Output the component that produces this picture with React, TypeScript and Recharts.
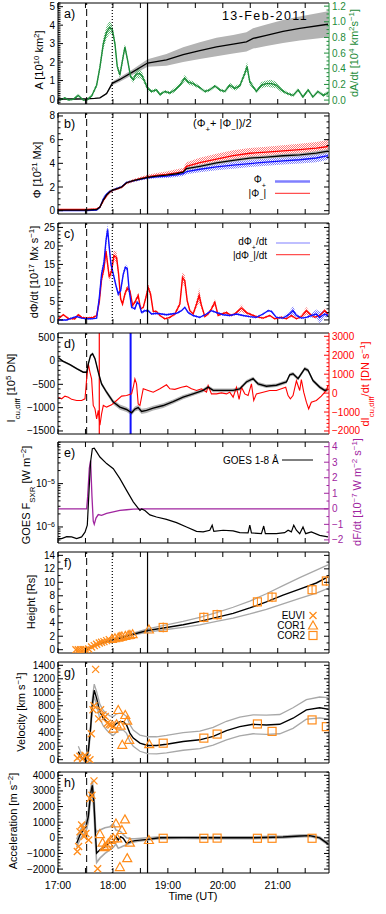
import React from 'react';
import { ComposedChart, Line, Area, Scatter, XAxis, YAxis, ReferenceLine } from 'recharts';

const FONT = '"Liberation Sans", Arial, Helvetica, sans-serif';
const GREEN = '#1e8c3a';
const BLUE = '#1010ff';
const RED = '#ff0000';
const PURPLE = '#a0259f';
const ORANGE = '#ff8c1a';
const GRAY_BAND = '#b3b3b3';
const GRAY_LINE = '#a8a8a8';

// figure geometry
const W = 386;
const L = 58; // plot left edge
const R = 329; // plot right edge
const H = 101; // plot height
const PAD = 4;
const PLOT_TOPS = [3, 113, 223, 333, 442, 552, 662, 772];

// time axis: minutes after 17:00 UT
const T_MAX = 296;
const TIME_TICKS = [0, 30, 60, 90, 120, 150, 180, 210, 240, 270];
const HOUR_LABELS: Record<number, string> = { 0: '17:00', 60: '18:00', 120: '19:00', 180: '20:00', 240: '21:00' };
const T_DASH = 31.3;
const T_DOT = 59.3;
const T_SOLID = 97.8;
const T_RED = 45.1;
const T_BLUE = 79.3;

// a) area and its derivative
const AREA_T = [0, 20, 31.3, 40, 45.8, 53.1, 59.3, 67.6, 82.2, 97.8, 118.5, 136.7, 154.9, 173.1, 191.3, 205.8, 213.1, 227.6, 245.8, 264, 294.9];
const AREA_V = [0, 0, 0.01, 0.03, 0.06, 0.3, 0.85, 1.06, 1.48, 1.95, 2.12, 2.4, 2.62, 2.82, 2.97, 3.1, 3.28, 3.45, 3.66, 3.82, 4.05];
const AREA_ERR = [0, 0, 0, 0.01, 0.02, 0.05, 0.1, 0.12, 0.15, 0.2, 0.32, 0.4, 0.45, 0.5, 0.5, 0.52, 0.55, 0.58, 0.62, 0.65, 0.7];

const DADT_T = [2.2, 7.6, 11.3, 16.7, 22.2, 27.6, 31.3, 36.7, 42.2, 45.8, 49.5, 53.1, 56.7, 59.3, 62.2, 64.7, 67.6, 70.2, 73.1, 76, 79.3, 82.2, 85.1, 88.7, 91.3, 93.8, 97.8, 102.2, 107.6, 111.3, 116.7, 122.2, 127.6, 133.1, 138.5, 142.2, 147.6, 154.9, 160.4, 165.8, 171.3, 176.7, 182.2, 187.6, 193.1, 198.5, 204, 206.5, 209.5, 216.7, 222.2, 227.6, 233.1, 238.5, 244, 249.5, 256.7, 262.2, 267.6, 273.1, 278.5, 284, 289.5, 294.9];
const DADT_V = [0, 0.03, 0, 0.01, 0.06, 0, 0, 0.05, 0.19, 0.42, 0.72, 0.87, 0.93, 0.9, 0.72, 0.43, 0.32, 0.49, 0.68, 0.51, 0.3, 0.26, 0.33, 0.34, 0.32, 0.26, 0.15, 0.11, 0.13, 0.07, 0.11, 0.09, 0.13, 0.19, 0.28, 0.23, 0.21, 0.16, 0.11, 0.13, 0.18, 0.13, 0.11, 0.19, 0.15, 0.18, 0.34, 0.43, 0.23, 0.11, 0.19, 0.21, 0.21, 0.19, 0.13, 0.09, 0.06, 0.13, 0.04, 0.13, 0.04, 0.11, 0.06, 0.09];
const DADT_ERR = [0.01, 0.01, 0.01, 0.01, 0.02, 0.01, 0.01, 0.02, 0.03, 0.05, 0.07, 0.08, 0.08, 0.06, 0.05, 0.04, 0.04, 0.05, 0.04, 0.03, 0.03, 0.04, 0.05, 0.06, 0.05, 0.04, 0.03, 0.02, 0.02, 0.02, 0.02, 0.02, 0.03, 0.03, 0.04, 0.03, 0.03, 0.02, 0.02, 0.02, 0.02, 0.02, 0.02, 0.03, 0.03, 0.03, 0.04, 0.06, 0.04, 0.02, 0.04, 0.04, 0.05, 0.04, 0.03, 0.02, 0.02, 0.02, 0.02, 0.02, 0.02, 0.02, 0.02, 0.02];

// b) magnetic flux
const PHI_T = [0, 31.3, 42.2, 45.8, 49.5, 53.1, 56.7, 60.4, 64, 69.5, 74.9, 82.2, 89.5, 97.8, 107.6, 118.5, 129.5, 136.7, 140.4, 154.9, 173.1, 191.3, 209.5, 227.6, 245.8, 264, 282.2, 294.9];
const PHI_MEAN = [0.05, 0.05, 0.1, 0.3, 0.9, 1.33, 1.6, 1.75, 1.85, 2.0, 2.36, 2.53, 2.67, 2.82, 2.92, 3.0, 3.12, 3.25, 3.55, 3.75, 4.03, 4.25, 4.44, 4.53, 4.64, 4.72, 4.86, 5.03];
const PHI_POS = [0.0, 0.0, 0.05, 0.3, 1.0, 1.4, 1.62, 1.75, 1.87, 2.02, 2.38, 2.52, 2.64, 2.78, 2.85, 2.92, 3.02, 3.12, 3.3, 3.5, 3.7, 3.85, 3.98, 4.1, 4.2, 4.3, 4.45, 4.65];
const PHI_NEG = [0.1, 0.1, 0.15, 0.3, 0.85, 1.28, 1.58, 1.75, 1.83, 1.98, 2.34, 2.54, 2.7, 2.86, 2.98, 3.06, 3.2, 3.3, 3.75, 4.05, 4.35, 4.65, 4.85, 4.95, 5.05, 5.15, 5.28, 5.42];
const PHI_MEAN_ERR = [0.02, 0.02, 0.04, 0.06, 0.08, 0.08, 0.08, 0.08, 0.08, 0.08, 0.08, 0.08, 0.08, 0.1, 0.1, 0.1, 0.1, 0.1, 0.12, 0.12, 0.12, 0.12, 0.13, 0.13, 0.14, 0.14, 0.15, 0.15];
const PHI_POS_ERR = [0.03, 0.03, 0.05, 0.1, 0.15, 0.15, 0.12, 0.1, 0.1, 0.1, 0.1, 0.1, 0.1, 0.1, 0.12, 0.15, 0.18, 0.2, 0.22, 0.25, 0.28, 0.3, 0.3, 0.3, 0.3, 0.32, 0.35, 0.35];
const PHI_NEG_ERR = [0.03, 0.03, 0.05, 0.1, 0.15, 0.15, 0.12, 0.1, 0.1, 0.1, 0.12, 0.14, 0.15, 0.18, 0.2, 0.25, 0.3, 0.3, 0.35, 0.42, 0.45, 0.45, 0.45, 0.45, 0.48, 0.5, 0.52, 0.55];

// c) flux rates
const DPOS_T = [0.4, 9.5, 14.9, 20.4, 25.8, 31.3, 36.7, 42.2, 45.1, 47.6, 50.2, 52.4, 54.2, 56, 57.8, 60.4, 63.3, 65.8, 68.4, 71.3, 73.5, 75.6, 77.8, 80.4, 84, 86.5, 88.7, 91.3, 94.9, 98.5, 102.2, 107.6, 113.1, 118.5, 124, 129.5, 134.9, 138.5, 142.2, 147.6, 154.9, 162.2, 167.6, 173.1, 180.4, 187.6, 194.9, 202.2, 209.5, 216.7, 224, 229.5, 233.1, 238.5, 245.8, 253.1, 256.7, 260.4, 265.8, 271.3, 276.7, 282.2, 285.8, 291.3, 294.9];
const DPOS_V = [0, 0, 0.5, 0.9, 0.5, 0.3, 0.3, 0.5, 6, 12.4, 15.5, 21.4, 24.5, 19.6, 15.1, 12.4, 9.3, 7, 7.9, 12.4, 14.2, 14, 7.9, 3.4, 3, 4.8, 4.2, 2, 2.5, 2.5, 1.6, 1.8, 1.6, 1.4, 1.6, 1.8, 2.5, 3.4, 2, 1.2, 0.7, 1.6, 2.5, 2, 1.4, 1.2, 1.6, 1.2, 0.9, 0.7, 1.6, 2.5, 2.3, 0.7, 0.5, 1.6, 2.5, 1.2, 0.5, 0.7, 1.2, 1.6, 0.7, 1.6, 1.2];
const DPOS_ERR = [0.2, 0.2, 0.2, 0.2, 0.2, 0.2, 0.2, 0.2, 1, 1.2, 1.2, 1.5, 1.5, 1.2, 1, 0.8, 0.6, 0.6, 0.8, 0.8, 0.8, 0.6, 0.4, 0.4, 0.4, 0.4, 0.4, 0.4, 0.4, 0.3, 0.3, 0.3, 0.3, 0.3, 0.3, 0.3, 0.3, 0.3, 0.3, 0.3, 0.3, 0.3, 0.3, 0.3, 0.3, 0.3, 0.3, 0.3, 0.3, 0.3, 0.3, 0.3, 0.3, 0.3, 0.3, 0.8, 1.2, 0.5, 0.3, 0.3, 0.5, 1.2, 1.5, 0.8, 0.6];
const DNEG_T = [0.4, 5.8, 11.3, 18.5, 22.2, 25.8, 31.3, 38.5, 42.2, 45.1, 47.6, 50.2, 52.4, 54.2, 56, 58.5, 61.1, 64, 66.2, 68.4, 70.5, 73.1, 75.6, 78.5, 81.5, 84, 87.6, 90.2, 93.1, 96, 98.5, 101.1, 104, 107.6, 111.3, 116.7, 122.2, 127.6, 133.1, 136, 138.5, 141.1, 144, 147.6, 151.3, 154.2, 156.7, 160.4, 164, 167.6, 171.3, 174.9, 178.5, 184, 189.5, 194.9, 200.4, 205.8, 211.3, 216.7, 224, 231.3, 236.7, 244, 249.5, 254.9, 260.4, 265.8, 271.3, 274.9, 280.4, 285.8, 291.3, 294.9];
const DNEG_V = [0.3, 1.4, 0.4, 0.3, 1.4, 0.7, 0.5, 0.7, 1.2, 4.8, 11, 13.8, 18.7, 15.1, 11.5, 13.3, 17.4, 16.9, 12.4, 5.7, 4.3, 7, 8.6, 7.9, 3.9, 4.8, 6.6, 3, 3.4, 6.1, 8.8, 7, 2.3, 2.3, 1.2, 0.3, 0.7, 1.6, 4.3, 11.5, 10.6, 5.2, 2.5, 1.6, 4.3, 6.6, 3.9, 0.9, 1.6, 3, 4.8, 1.2, 1.6, 2, 1.2, 2, 3.2, 2, 1.4, 0.9, 0.5, 1.2, 0.3, 0.7, 0.3, 1.2, 0.3, 0.9, 2.5, 1.6, 0.7, 1.2, 2.5, 1.6];
const DNEG_ERR = [0.3, 0.3, 0.3, 0.3, 0.3, 0.3, 0.3, 0.3, 0.3, 0.6, 1, 1.2, 1.5, 1.2, 1, 1.2, 1.5, 1.5, 1, 0.6, 0.6, 0.8, 0.8, 0.8, 0.5, 0.6, 0.8, 0.4, 0.4, 0.8, 1, 0.8, 0.4, 0.3, 0.3, 0.3, 0.3, 0.4, 0.8, 1.5, 1.5, 0.8, 0.4, 0.4, 1, 2, 0.8, 0.3, 0.4, 0.6, 0.8, 0.3, 0.3, 0.4, 0.3, 0.5, 1, 0.5, 0.3, 0.3, 0.3, 0.3, 0.2, 0.3, 0.2, 0.4, 0.2, 0.4, 1, 0.6, 0.3, 0.4, 0.8, 0.5];

// d) Cu-diff intensity and its derivative
const ICU_T = [0.4, 5.8, 13.1, 20.4, 27.6, 31.3, 33.1, 35.6, 37.8, 40.4, 44, 47.6, 53.1, 60.4, 67.6, 74.9, 80.4, 84, 87.6, 91.3, 96.7, 104, 114.9, 125.8, 136.7, 147.6, 158.5, 164, 169.5, 180.4, 191.3, 198.5, 205.8, 213.1, 218.5, 227.6, 238.5, 249.5, 253.1, 256.7, 262.2, 269.5, 273.1, 278.5, 285.8, 291.3, 294.9];
const ICU_V = [70, -10, -80, -165, -240, -240, -60, 120, 155, 50, -240, -490, -670, -880, -990, -1040, -1110, -1030, -1000, -1080, -1060, -1010, -955, -870, -775, -705, -630, -560, -630, -630, -630, -600, -450, -380, -490, -540, -520, -450, -295, -275, -380, -165, -200, -420, -560, -630, -610];
const ICU_ERR = [20, 20, 20, 20, 20, 25, 30, 30, 30, 30, 35, 40, 45, 50, 55, 55, 55, 55, 55, 55, 55, 50, 50, 45, 45, 40, 40, 40, 40, 40, 40, 40, 40, 40, 40, 40, 40, 40, 40, 40, 40, 40, 40, 40, 40, 40, 40];
const DICU_T = [0.4, 4, 7.6, 11.3, 14.9, 20.4, 25.8, 29.5, 31.3, 33.1, 34.9, 36.7, 38.5, 40.4, 42.2, 44, 45.8, 47.6, 49.5, 53.1, 58.5, 64, 69.5, 74.9, 80.4, 82.2, 84, 85.8, 87.6, 89.5, 93.1, 98.5, 104, 111.3, 118.5, 122.2, 127.6, 134.9, 140.4, 145.8, 151.3, 156.7, 162.2, 164, 167.6, 173.1, 178.5, 184, 187.6, 191.3, 194.9, 197.8, 200.4, 204, 207.6, 211.3, 213.8, 216.7, 224, 231.3, 238.5, 244, 248.7, 251.3, 253.8, 256.7, 260.4, 264, 265.8, 268.4, 271.3, 273.8, 276.7, 282.2, 287.6, 293.1, 294.9];
const DICU_V = [-215, -300, -160, -215, -330, -390, -390, -300, 750, 1550, 1100, 750, -650, -830, -1360, -910, -1700, -1100, -650, -740, -620, -390, -160, -130, -40, 310, 750, 490, -570, -650, 230, 140, 50, 230, 440, 230, 200, 310, 370, 230, 140, 230, 50, 400, -40, -40, 10, -40, 50, -215, 310, -330, 310, -40, -130, 490, -390, -40, 50, 140, 140, 230, 310, -130, -300, -130, 650, 140, 720, 50, -480, -830, -480, -390, -160, 140, 400];

// e) GOES 1-8 A flux [W m^-2] and its derivative
const GOES_T = [0.4, 4, 9.5, 14.9, 20.4, 25.8, 29.5, 32, 34.2, 35.6, 37.5, 39.6, 42.2, 45.8, 53.1, 60.4, 67.6, 74.9, 82.2, 89.5, 91.3, 94.9, 100.4, 107.6, 118.5, 129.5, 140.4, 151.3, 158.5, 165.8, 168.4, 170.2, 180.4, 191.3, 198.5, 207.6, 209.5, 211.3, 222.2, 224.7, 226.5, 238.5, 247.6, 251.3, 254.9, 257.5, 260.4, 264, 267.6, 270.5, 276.7, 285.8, 294.9];
const GOES_F = [5.4e-7, 5.4e-7, 6.0e-7, 5.9e-7, 5.4e-7, 5.9e-7, 7.6e-7, 1.1e-6, 9.2e-6, 3.2e-5, 6.4e-5, 6.6e-5, 5.4e-5, 4.1e-5, 2.9e-5, 2.2e-5, 1.3e-5, 7.0e-6, 3.8e-6, 2.4e-6, 2.6e-6, 2.4e-6, 1.9e-6, 1.7e-6, 1.5e-6, 1.26e-6, 1.0e-6, 7.9e-7, 7.7e-7, 8.4e-7, 1.1e-6, 7.9e-7, 8.4e-7, 8.1e-7, 7.4e-7, 7.3e-7, 1.1e-6, 7.3e-7, 7.0e-7, 1.05e-6, 7.0e-7, 7.0e-7, 7.4e-7, 8.4e-7, 7.7e-7, 1.1e-6, 8.4e-7, 7.0e-7, 1.0e-6, 7.0e-7, 7.7e-7, 6.4e-7, 5.9e-7];
const DFDT_T = [0, 31.3, 32.4, 34.2, 35.6, 37.1, 38.5, 39.6, 41.5, 44, 47.6, 53.1, 60.4, 67.6, 74.9, 82.2, 93.1, 294.9];
const DFDT_V = [0, 0, 0.8, 2.6, 3.1, 0.8, -0.8, -1.0, -0.6, -0.37, -0.42, -0.3, -0.2, -0.1, -0.06, -0.02, 0, 0];

// f) height [Rs]
const HFIT_T = [31.3, 38.5, 45.8, 59.3, 71.3, 82.2, 97.8, 118.5, 136.7, 154.9, 173.1, 191.3, 209.5, 227.6, 245.8, 264, 282.2, 294.9];
const HFIT = [0, 0.5, 0.9, 1.45, 1.85, 2.3, 2.85, 3.3, 3.7, 4.2, 4.8, 5.4, 6.2, 7.1, 8.1, 9.0, 9.9, 10.8];
const HFIT_HI = [0.1, 0.6, 1.0, 1.6, 2.0, 2.45, 3.1, 3.7, 4.2, 4.8, 5.5, 6.3, 7.2, 8.3, 9.5, 10.7, 11.8, 12.6];
const HFIT_LO = [0, 0.4, 0.8, 1.3, 1.7, 2.15, 2.6, 3.0, 3.3, 3.7, 4.2, 4.7, 5.3, 6.0, 6.8, 7.6, 8.4, 9.1];
const H_EUVI_T = [19.6, 22.2, 24.7, 27.6, 30.5, 33.5, 36.7, 39.6, 42.2, 45.1, 47.6, 50.2, 53.1, 56];
const H_EUVI = [0, 0, 0, 0, 0, 0.1, 0.4, 0.6, 0.8, 1.0, 1.1, 1.2, 1.35, 1.5];
const H_COR1_T = [58.9, 62.2, 65.8, 67.6, 69.8, 73.5, 76.7, 78.5, 81.5, 99.3];
const H_COR1 = [1.6, 1.7, 1.8, 1.9, 1.95, 2.05, 2.15, 2.2, 2.3, 3.0];
const H_COR2_T = [114.9, 159.3, 173.8, 217.8, 233.8, 277.5, 293.1];
const H_COR2 = [3.3, 4.8, 5.2, 7.1, 7.8, 8.9, 10.2];

// g) velocity [km/s]
const VFIT_T = [22.2, 25.8, 29.5, 33.1, 35.6, 37.8, 39.6, 42.2, 45.8, 49.5, 53.1, 56.7, 60.4, 64, 67.6, 71.3, 74.9, 78.5, 82.2, 89.5, 97.8, 107.6, 118.5, 136.7, 154.9, 169.5, 184, 198.5, 213.1, 227.6, 242.2, 256.7, 271.3, 285.8, 294.9];
const VFIT = [120, 25, 0, 120, 470, 860, 1030, 910, 710, 615, 565, 515, 490, 540, 565, 565, 515, 395, 320, 245, 210, 210, 230, 270, 295, 345, 430, 490, 525, 515, 525, 615, 740, 770, 750];
const VFIT_HI = [200, 80, 40, 170, 540, 950, 1120, 1010, 820, 730, 680, 650, 640, 680, 690, 680, 640, 520, 440, 365, 340, 340, 360, 400, 425, 480, 570, 630, 665, 660, 670, 770, 890, 930, 920];
const VFIT_LO = [60, 0, 0, 60, 400, 780, 940, 810, 600, 500, 440, 390, 360, 410, 440, 440, 390, 270, 200, 125, 90, 85, 100, 140, 165, 215, 295, 355, 385, 375, 385, 465, 600, 620, 600];
const V_EUVI_T = [21.1, 24, 26.9, 29.5, 32, 34.9, 36.4, 38.2, 39.3, 41.1, 44.4, 46.5, 49.1, 51.6, 53.8, 56, 57.8];
const V_EUVI = [25, 50, 15, 65, 25, 0, 385, 740, 800, 1340, 605, 740, 665, 640, 540, 525, 515];
const V_COR1_T = [60.4, 64, 65.8, 68.4, 70.2, 73.5, 75.6, 77.8, 99.6];
const V_COR1 = [460, 525, 737, 506, 221, 663, 580, 295, 231];
const V_COR2_T = [114.9, 159.3, 173.8, 217.8, 233.8, 277.5, 293.1];
const V_COR2 = [245, 320, 380, 530, 420, 590, 490];

// h) acceleration [m/s^2]
const AFIT_T = [20.4, 24, 27.6, 30.5, 33.1, 35.6, 37.5, 39.3, 41.1, 42.2, 45.8, 51.3, 56.7, 60.4, 63.3, 65.8, 68.4, 71.3, 74.9, 79.3, 84, 97.8, 111.3, 136.7, 173.1, 209.5, 245.8, 264, 274.9, 285.8, 294.9];
const AFIT = [-350, 180, 500, 710, 1350, 2830, 3360, 2190, 75, -980, -770, -560, -300, -240, 75, -140, 75, -30, -350, -240, -180, -100, 0, 10, 0, 0, 50, 120, 140, 0, -390];
const AFIT_HI = [-100, 450, 800, 1000, 1700, 3100, 3650, 2700, 600, 390, 500, 650, 710, 900, 500, 450, 400, 200, 0, -50, -60, 0, 60, 70, 60, 60, 110, 180, 200, 60, -330];
const AFIT_LO = [-600, -100, 200, 400, 1000, 2500, 3050, 1600, -500, -1580, -1300, -1000, -770, -600, -400, -660, -600, -520, -450, -320, -250, -140, -60, -40, -50, -60, -10, 60, 80, -60, -450];
const A_EUVI_T = [21.1, 22.5, 24, 25.8, 27.6, 28.4, 30.5, 33.5, 34.9, 37.1, 39.3, 43.3];
const A_EUVI = [-880, -560, 390, 820, 600, 75, 280, -140, 2510, 2720, 3640, -1980];
const A_COR1_T = [45.8, 48.7, 50.9, 53.1, 54.9, 57.8, 60.4, 63.3, 64.7, 67.6, 69.8, 73.1, 75.6, 78.5, 99.3];
const A_COR1 = [240, -310, -600, -520, -350, -140, -30, 920, -30, -1870, 500, 1180, -1300, -310, -140];
const A_COR2_T = [114.9, 159.3, 173.8, 217.8, 233.8, 277.5];
const A_COR2 = [-30, -30, -20, -30, -30, -30];

// tick labels
const A_MAJORS = [0, 1, 2, 3, 4, 5];
const A_RIGHT_MAJORS = [0, 0.2, 0.4, 0.6, 0.8, 1.0, 1.2];
const B_MAJORS = [0, 2, 4, 6, 8];
const C_MAJORS = [0, 5, 10, 15, 20, 25];
const D_MAJORS = [-1500, -1000, -500, 0, 500];
const D_RIGHT_MAJORS = [-2000, -1000, 0, 1000, 2000, 3000];
const E_FLUX_TICKS = [5e-7, 6e-7, 7e-7, 8e-7, 9e-7, 1e-6, 2e-6, 3e-6, 4e-6, 5e-6, 6e-6, 7e-6, 8e-6, 9e-6, 1e-5, 2e-5, 3e-5, 4e-5, 5e-5, 6e-5, 7e-5, 8e-5, 9e-5];
const E_MAJORS = [-6, -5];
const E_RIGHT_MAJORS = [-2, -1, 0, 1, 2, 3, 4];
const F_MAJORS = [0, 2, 4, 6, 8, 10, 12, 14];
const G_MAJORS = [0, 200, 400, 600, 800, 1000, 1200, 1400];
const H_MAJORS = [-2000, -1000, 0, 1000, 2000, 3000, 4000];

const steps = (a: number, b: number, s: number) => {
  const out: number[] = [];
  for (let v = a; v <= b + 1e-9; v += s) out.push(+v.toFixed(4));
  return out;
};
const pts = (t: number[], v: number[]) => t.map((x, i) => ({ t: x, v: v[i] }));
const bandPm = (t: number[], v: number[], e: number[]) => t.map((x, i) => ({ t: x, band: [v[i] - e[i], v[i] + e[i]] }));
const num = (v: number) => (v < 0 ? '\u2212' + Math.abs(v) : String(v));

type AxisSpec = {
  domain: [number, number];
  ticks: number[];
  majors: number[];
  label?: (v: number) => React.ReactNode;
  color?: string;
};

const yTick = (side: 'left' | 'right', spec: AxisSpec) => (props: any) => {
  const v = props.payload.value;
  const y = props.payload.coordinate ?? props.y;
  const major = spec.majors.some((m) => Math.abs(m - v) < 1e-6);
  const c = spec.color ?? '#000';
  const x0 = side === 'left' ? L : R;
  const d = side === 'left' ? 1 : -1;
  return (
    <g>
      <line x1={x0} x2={x0 + d * (major ? 5 : 2.5)} y1={y} y2={y} stroke={c} strokeWidth={1} />
      {major && spec.label ? (
        <text x={x0 - d * 3} y={y + 3.5} textAnchor={side === 'left' ? 'end' : 'start'} fontSize={10} fontFamily={FONT} fill={c}>
          {spec.label(v)}
        </text>
      ) : null}
    </g>
  );
};

const xTick = (edge: number, dir: number, labels: boolean) => (props: any) => {
  const x = props.payload.coordinate ?? props.x;
  const v = props.payload.value;
  return (
    <g>
      <line x1={x} x2={x} y1={edge} y2={edge + dir * 5} stroke="#000" strokeWidth={1} />
      {labels && HOUR_LABELS[v] ? (
        <text x={x} y={edge + 16} textAnchor="middle" fontSize={10.5} fontFamily={FONT} fill="#000">
          {HOUR_LABELS[v]}
        </text>
      ) : null}
    </g>
  );
};

// x axes get a 1px height so that Recharts draws them; margins compensate
function frameAxes(left: AxisSpec, right: AxisSpec, last = false) {
  return [
    <XAxis key="xb" xAxisId="b" type="number" dataKey="t" domain={[0, T_MAX]} ticks={TIME_TICKS} interval={0} allowDataOverflow height={1} tickLine={false} axisLine={{ stroke: '#000' }} tick={xTick(PAD + H, -1, last)} />,
    <XAxis key="xt" xAxisId="t" orientation="top" type="number" dataKey="t" domain={[0, T_MAX]} ticks={TIME_TICKS} interval={0} allowDataOverflow height={1} tickLine={false} axisLine={{ stroke: '#000' }} tick={xTick(PAD, 1, false)} />,
    <YAxis key="yl" yAxisId="l" type="number" domain={left.domain} ticks={left.ticks} interval={0} allowDataOverflow width={L} tickLine={false} axisLine={{ stroke: left.color ?? '#000' }} tick={yTick('left', left)} />,
    <YAxis key="yr" yAxisId="r" orientation="right" type="number" domain={right.domain} ticks={right.ticks} interval={0} allowDataOverflow width={W - R} tickLine={false} axisLine={{ stroke: right.color ?? '#000' }} tick={yTick('right', right)} />,
  ];
}

function eventLines() {
  return [
    <ReferenceLine key="e1" x={T_DASH} xAxisId="b" yAxisId="l" stroke="#000" strokeWidth={1} strokeDasharray="7 4" />,
    <ReferenceLine key="e2" x={T_DOT} xAxisId="b" yAxisId="l" stroke="#000" strokeWidth={1.2} strokeDasharray="1 2" />,
    <ReferenceLine key="e3" x={T_SOLID} xAxisId="b" yAxisId="l" stroke="#000" strokeWidth={1.2} />,
  ];
}

const boxStyle = (i: number): React.CSSProperties => ({ position: 'absolute', left: 0, top: PLOT_TOPS[i] - PAD });
const MARGIN = { top: PAD - 1, right: 0, bottom: PAD - 1, left: 0 };

const XMark = (p: any) =>
  p.cx == null ? <g /> : (
    <path d={`M${p.cx - 3.5},${p.cy - 3.5}L${p.cx + 3.5},${p.cy + 3.5}M${p.cx - 3.5},${p.cy + 3.5}L${p.cx + 3.5},${p.cy - 3.5}`} stroke={ORANGE} strokeWidth={1.3} fill="none" />
  );
const TriMark = (p: any) =>
  p.cx == null ? <g /> : (
    <path d={`M${p.cx},${p.cy - 4.5}L${p.cx + 4.5},${p.cy + 3.5}L${p.cx - 4.5},${p.cy + 3.5}Z`} stroke={ORANGE} strokeWidth={1.2} fill="none" />
  );
const SqMark = (p: any) =>
  p.cx == null ? <g /> : <rect x={p.cx - 4} y={p.cy - 4} width={8} height={8} stroke={ORANGE} strokeWidth={1.2} fill="none" />;
const SqBarMark = (p: any) =>
  p.cx == null ? <g /> : (
    <g>
      <rect x={p.cx - 4} y={p.cy - 4} width={8} height={8} stroke={ORANGE} strokeWidth={1.2} fill="none" />
      <line x1={p.cx} x2={p.cx} y1={p.cy - 5} y2={p.cy + 5} stroke={ORANGE} strokeWidth={1} />
    </g>
  );

const lineProps = { type: 'linear' as const, dot: false, activeDot: false, isAnimationActive: false, xAxisId: 'b' };
const areaProps = { type: 'linear' as const, stroke: 'none', dot: false, activeDot: false, isAnimationActive: false, xAxisId: 'b', fillOpacity: 1 };

function Patterns() {
  const checker = (id: string, c: string) => (
    <pattern id={id} width={2} height={2} patternUnits="userSpaceOnUse">
      <rect x={0} y={0} width={1} height={1} fill={c} />
      <rect x={1} y={1} width={1} height={1} fill={c} />
    </pattern>
  );
  return (
    <svg width={0} height={0} style={{ position: 'absolute' }}>
      <defs>
        {checker('pGreen', '#5cb872')}
        {checker('pRed', '#ff7a7a')}
        {checker('pBlue', '#7a7aff')}
      </defs>
    </svg>
  );
}

function PanelA() {
  const left: AxisSpec = { domain: [-0.27, 5.2], ticks: steps(-0.2, 5.2, 0.1), majors: A_MAJORS, label: num };
  const right: AxisSpec = { domain: [-0.05, 1.24], ticks: steps(0, 1.2, 0.05), majors: A_RIGHT_MAJORS, label: (v) => v.toFixed(1), color: GREEN };
  return (
    <div style={boxStyle(0)}>
      <ComposedChart width={W} height={H + 2 * PAD} margin={MARGIN}>
        {frameAxes(left, right)}
        <Area {...areaProps} data={bandPm(AREA_T, AREA_V, AREA_ERR)} dataKey="band" yAxisId="l" fill={GRAY_BAND} />
        <Area {...areaProps} data={bandPm(DADT_T, DADT_V, DADT_ERR)} dataKey="band" yAxisId="r" fill="url(#pGreen)" />
        <Line {...lineProps} data={pts(AREA_T, AREA_V)} dataKey="v" yAxisId="l" stroke="#000" strokeWidth={1.3} />
        <Line {...lineProps} data={pts(DADT_T, DADT_V)} dataKey="v" yAxisId="r" stroke={GREEN} strokeWidth={1.4} />
        {eventLines()}
      </ComposedChart>
    </div>
  );
}

function PanelB() {
  const left: AxisSpec = { domain: [-0.28, 8.25], ticks: steps(0, 8, 0.5), majors: B_MAJORS, label: num };
  return (
    <div style={boxStyle(1)}>
      <ComposedChart width={W} height={H + 2 * PAD} margin={MARGIN}>
        {frameAxes(left, { ...left, label: undefined })}
        <Area {...areaProps} data={bandPm(PHI_T, PHI_NEG, PHI_NEG_ERR)} dataKey="band" yAxisId="l" fill="url(#pRed)" />
        <Area {...areaProps} data={bandPm(PHI_T, PHI_POS, PHI_POS_ERR)} dataKey="band" yAxisId="l" fill="url(#pBlue)" />
        <Area {...areaProps} data={bandPm(PHI_T, PHI_MEAN, PHI_MEAN_ERR)} dataKey="band" yAxisId="l" fill={GRAY_BAND} />
        <Line {...lineProps} data={pts(PHI_T, PHI_POS)} dataKey="v" yAxisId="l" stroke={BLUE} strokeWidth={1.3} />
        <Line {...lineProps} data={pts(PHI_T, PHI_NEG)} dataKey="v" yAxisId="l" stroke={RED} strokeWidth={1.3} />
        <Line {...lineProps} data={pts(PHI_T, PHI_MEAN)} dataKey="v" yAxisId="l" stroke="#000" strokeWidth={1.3} />
        {eventLines()}
      </ComposedChart>
    </div>
  );
}

function PanelC() {
  const left: AxisSpec = { domain: [-1.1, 26.2], ticks: steps(0, 26, 1), majors: C_MAJORS, label: num };
  return (
    <div style={boxStyle(2)}>
      <ComposedChart width={W} height={H + 2 * PAD} margin={MARGIN}>
        {frameAxes(left, { ...left, label: undefined })}
        <Area {...areaProps} data={bandPm(DNEG_T, DNEG_V, DNEG_ERR)} dataKey="band" yAxisId="l" fill="url(#pRed)" />
        <Area {...areaProps} data={bandPm(DPOS_T, DPOS_V, DPOS_ERR)} dataKey="band" yAxisId="l" fill="url(#pBlue)" />
        <Line {...lineProps} data={pts(DNEG_T, DNEG_V)} dataKey="v" yAxisId="l" stroke={RED} strokeWidth={1.4} />
        <Line {...lineProps} data={pts(DPOS_T, DPOS_V)} dataKey="v" yAxisId="l" stroke={BLUE} strokeWidth={1.4} />
        {eventLines()}
      </ComposedChart>
    </div>
  );
}

function PanelD() {
  const left: AxisSpec = { domain: [-1565, 600], ticks: steps(-1500, 500, 100), majors: D_MAJORS, label: num };
  const right: AxisSpec = { domain: [-2160, 3175], ticks: steps(-2000, 3000, 200), majors: D_RIGHT_MAJORS, label: num, color: RED };
  return (
    <div style={boxStyle(3)}>
      <ComposedChart width={W} height={H + 2 * PAD} margin={MARGIN}>
        {frameAxes(left, right)}
        <ReferenceLine x={T_DASH} xAxisId="b" yAxisId="l" stroke="#000" strokeDasharray="7 4" />
        <ReferenceLine x={T_RED} xAxisId="b" yAxisId="l" stroke={RED} strokeWidth={1.2} />
        <ReferenceLine x={T_BLUE} xAxisId="b" yAxisId="l" stroke={BLUE} strokeWidth={2} />
        <Area {...areaProps} data={bandPm(ICU_T, ICU_V, ICU_ERR)} dataKey="band" yAxisId="l" fill={GRAY_BAND} />
        <Line {...lineProps} data={pts(DICU_T, DICU_V)} dataKey="v" yAxisId="r" stroke={RED} strokeWidth={1.1} />
        <Line {...lineProps} data={pts(ICU_T, ICU_V)} dataKey="v" yAxisId="l" stroke="#000" strokeWidth={1.4} />
      </ComposedChart>
    </div>
  );
}

function PanelE() {
  const sup = (s: string) => (
    <>
      10<tspan baselineShift="super" fontSize={7}>{s}</tspan>
    </>
  );
  const left: AxisSpec = {
    domain: [-6.37, -4.04],
    ticks: E_FLUX_TICKS.map((f) => Math.log10(f)),
    majors: E_MAJORS,
    label: (v) => sup('\u2212' + Math.round(Math.abs(v))),
  };
  const right: AxisSpec = { domain: [-2.2, 4.3], ticks: steps(-2, 4, 0.5), majors: E_RIGHT_MAJORS, label: num, color: PURPLE };
  const goes = GOES_T.map((t, i) => ({ t, v: Math.log10(GOES_F[i]) }));
  return (
    <div style={boxStyle(4)}>
      <ComposedChart width={W} height={H + 2 * PAD} margin={MARGIN}>
        {frameAxes(left, right)}
        <Line {...lineProps} data={pts(DFDT_T, DFDT_V)} dataKey="v" yAxisId="r" stroke={PURPLE} strokeWidth={1.3} />
        <Line {...lineProps} data={goes} dataKey="v" yAxisId="l" stroke="#000" strokeWidth={1.2} />
      </ComposedChart>
    </div>
  );
}

function PanelF() {
  const left: AxisSpec = { domain: [-0.49, 14.5], ticks: steps(0, 14, 1), majors: F_MAJORS, label: num };
  return (
    <div style={boxStyle(5)}>
      <ComposedChart width={W} height={H + 2 * PAD} margin={MARGIN}>
        {frameAxes(left, { ...left, label: undefined })}
        {eventLines()}
        <Line {...lineProps} data={pts(HFIT_T, HFIT_HI)} dataKey="v" yAxisId="l" stroke={GRAY_LINE} strokeWidth={1.3} />
        <Line {...lineProps} data={pts(HFIT_T, HFIT_LO)} dataKey="v" yAxisId="l" stroke={GRAY_LINE} strokeWidth={1.3} />
        <Line {...lineProps} data={pts(HFIT_T, HFIT)} dataKey="v" yAxisId="l" stroke="#000" strokeWidth={1.4} />
        <Scatter data={pts(H_EUVI_T, H_EUVI)} dataKey="v" xAxisId="b" yAxisId="l" shape={XMark} isAnimationActive={false} />
        <Scatter data={pts(H_COR1_T, H_COR1)} dataKey="v" xAxisId="b" yAxisId="l" shape={TriMark} isAnimationActive={false} />
        <Scatter data={pts(H_COR2_T, H_COR2)} dataKey="v" xAxisId="b" yAxisId="l" shape={SqBarMark} isAnimationActive={false} />
      </ComposedChart>
    </div>
  );
}

function PanelG() {
  const left: AxisSpec = { domain: [-49, 1449], ticks: steps(0, 1400, 50), majors: G_MAJORS, label: num };
  return (
    <div style={boxStyle(6)}>
      <ComposedChart width={W} height={H + 2 * PAD} margin={MARGIN}>
        {frameAxes(left, { ...left, label: undefined })}
        {eventLines()}
        <Line {...lineProps} data={pts(VFIT_T, VFIT_HI)} dataKey="v" yAxisId="l" stroke={GRAY_LINE} strokeWidth={1.3} />
        <Line {...lineProps} data={pts(VFIT_T, VFIT_LO)} dataKey="v" yAxisId="l" stroke={GRAY_LINE} strokeWidth={1.3} />
        <Line {...lineProps} data={pts(VFIT_T, VFIT)} dataKey="v" yAxisId="l" stroke="#000" strokeWidth={1.4} />
        <Scatter data={pts(V_EUVI_T, V_EUVI)} dataKey="v" xAxisId="b" yAxisId="l" shape={XMark} isAnimationActive={false} />
        <Scatter data={pts(V_COR1_T, V_COR1)} dataKey="v" xAxisId="b" yAxisId="l" shape={TriMark} isAnimationActive={false} />
        <Scatter data={pts(V_COR2_T, V_COR2)} dataKey="v" xAxisId="b" yAxisId="l" shape={SqMark} isAnimationActive={false} />
      </ComposedChart>
    </div>
  );
}

function PanelH() {
  const left: AxisSpec = { domain: [-2250, 4210], ticks: steps(-2000, 4200, 200), majors: H_MAJORS, label: num };
  return (
    <div style={boxStyle(7)}>
      <ComposedChart width={W} height={H + PAD + 30} margin={{ ...MARGIN, bottom: 29 }}>
        {frameAxes(left, { ...left, label: undefined }, true)}
        {eventLines()}
        <Line {...lineProps} data={pts(AFIT_T, AFIT_HI)} dataKey="v" yAxisId="l" stroke={GRAY_LINE} strokeWidth={1.6} />
        <Line {...lineProps} data={pts(AFIT_T, AFIT_LO)} dataKey="v" yAxisId="l" stroke={GRAY_LINE} strokeWidth={1.6} />
        <Line {...lineProps} data={pts(AFIT_T, AFIT)} dataKey="v" yAxisId="l" stroke="#000" strokeWidth={1.4} />
        <Scatter data={pts(A_EUVI_T, A_EUVI)} dataKey="v" xAxisId="b" yAxisId="l" shape={XMark} isAnimationActive={false} />
        <Scatter data={pts(A_COR1_T, A_COR1)} dataKey="v" xAxisId="b" yAxisId="l" shape={TriMark} isAnimationActive={false} />
        <Scatter data={pts(A_COR2_T, A_COR2)} dataKey="v" xAxisId="b" yAxisId="l" shape={SqMark} isAnimationActive={false} />
      </ComposedChart>
    </div>
  );
}

const Sup = ({ children }: { children: React.ReactNode }) => (
  <tspan baselineShift="super" fontSize="0.72em">{children}</tspan>
);
const Sub = ({ children }: { children: React.ReactNode }) => (
  <tspan baselineShift="sub" fontSize="0.72em">{children}</tspan>
);

function VTitle({ x, y, color = '#000', children }: { x: number; y: number; color?: string; children: React.ReactNode }) {
  return (
    <text transform={`translate(${x},${y}) rotate(-90)`} textAnchor="middle" fontSize={11} fontFamily={FONT} fill={color}>
      {children}
    </text>
  );
}

function Overlay() {
  const t = PLOT_TOPS;
  const letters = ['a)', 'b)', 'c)', 'd)', 'e)', 'f)', 'g)', 'h)'];
  return (
    <svg width={W} height={914} style={{ position: 'absolute', left: 0, top: 0, pointerEvents: 'none' }} fontFamily={FONT}>
      {letters.map((s, i) => (
        <text key={s} x={64} y={t[i] + 15} fontSize={12.5}>{s}</text>
      ))}
      <text x={222} y={20} fontSize={12.5} letterSpacing={1.4}>13-Feb-2011</text>

      <VTitle x={43} y={60}>A [10<Sup>10</Sup> km<Sup>2</Sup>]</VTitle>
      <VTitle x={358} y={53} color={GREEN}>dA/dt [10<Sup>4</Sup> km<Sup>2</Sup>s<Sup>{'\u2212'}1</Sup>]</VTitle>
      <VTitle x={41} y={170}>Φ [10<Sup>21</Sup> Mx]</VTitle>
      <VTitle x={38} y={272}>dΦ/dt [10<Sup>17</Sup> Mx s<Sup>{'\u2212'}1</Sup>]</VTitle>
      <VTitle x={15} y={388}>I<Sub>cu,diff</Sub> [10<Sup>5</Sup> DN]</VTitle>
      <VTitle x={369} y={384} color={RED}>dI<Sub>cu,diff</Sub>/dt [DN s<Sup>{'\u2212'}1</Sup>]</VTitle>
      <VTitle x={30} y={495}>GOES F<Sub>SXR</Sub> [W m<Sup>{'\u2212'}2</Sup>]</VTitle>
      <VTitle x={361} y={492} color={PURPLE}>dF/dt [10<Sup>{'\u2212'}7</Sup> W m<Sup>{'\u2212'}2</Sup> s<Sup>{'\u2212'}1</Sup>]</VTitle>
      <VTitle x={35} y={602}>Height [Rs]</VTitle>
      <VTitle x={25} y={712}>Velocity [km s<Sup>{'\u2212'}1</Sup>]</VTitle>
      <VTitle x={17} y={821}>Acceleration [m s<Sup>{'\u2212'}2</Sup>]</VTitle>

      <text x={193} y={127} fontSize={11}>(Φ<Sub>+</Sub>+ |Φ<Sub>{'\u2212'}</Sub>|)/2</text>
      <text x={266} y={183} fontSize={10} textAnchor="end">Φ<Sub>+</Sub></text>
      <line x1={275} x2={310} y1={181.5} y2={181.5} stroke="#8080ff" strokeWidth={2.5} />
      <text x={266} y={197} fontSize={10} textAnchor="end">|Φ<Sub>{'\u2212'}</Sub>|</text>
      <line x1={275} x2={310} y1={193.3} y2={193.3} stroke="#ff5050" strokeWidth={1.2} />

      <text x={267} y={245} fontSize={10} textAnchor="end">dΦ<Sub>+</Sub>/dt</text>
      <line x1={276} x2={310} y1={243} y2={243} stroke="#8080ff" strokeWidth={1.2} />
      <text x={267} y={259} fontSize={10} textAnchor="end">|dΦ<Sub>{'\u2212'}</Sub>|/dt</text>
      <line x1={276} x2={310} y1={254.7} y2={254.7} stroke="#ff5050" strokeWidth={1.2} />

      <text x={223} y={464} fontSize={10}>GOES 1-8 Å</text>
      <line x1={282} x2={313} y1={460} y2={460} stroke="#000" strokeWidth={1} />

      <text x={305} y={619} fontSize={10} textAnchor="end">EUVI</text>
      <XMark cx={313} cy={615.5} />
      <text x={305} y={629} fontSize={10} textAnchor="end">COR1</text>
      <TriMark cx={313} cy={625.5} />
      <text x={305} y={639} fontSize={10} textAnchor="end">COR2</text>
      <SqMark cx={313} cy={635.5} />

      <text x={193} y={900} fontSize={11} textAnchor="middle">Time (UT)</text>
    </svg>
  );
}

export default function App() {
  return (
    <div style={{ position: 'absolute', left: 0, top: 0, width: W, height: 914, background: '#fff', fontFamily: FONT }}>
      <Patterns />
      <PanelA />
      <PanelB />
      <PanelC />
      <PanelD />
      <PanelE />
      <PanelF />
      <PanelG />
      <PanelH />
      <Overlay />
    </div>
  );
}
